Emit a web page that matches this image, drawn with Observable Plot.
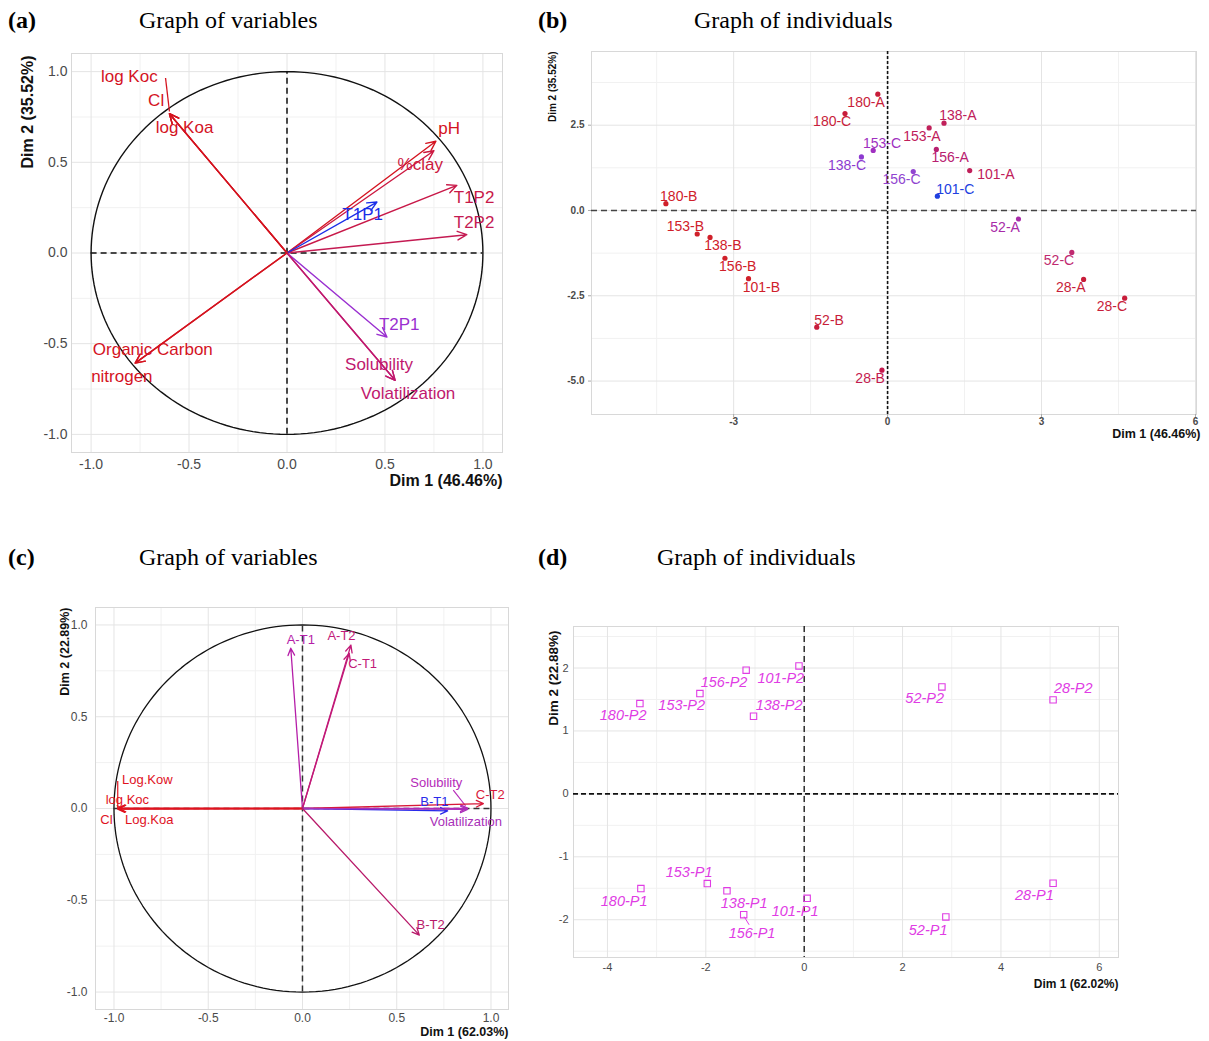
<!DOCTYPE html>
<html><head><meta charset="utf-8">
<script src="https://cdn.jsdelivr.net/npm/d3@7"></script>
<script src="https://cdn.jsdelivr.net/npm/@observablehq/plot@0.6"></script>
<style>
body{margin:0;background:#fff;}
#root{position:relative;width:1209px;height:1041px;overflow:hidden;background:#fff;}
.ttl{position:absolute;font-family:"Liberation Serif","Times New Roman",serif;font-size:24px;line-height:24px;color:#000;white-space:nowrap;}
.tag{font-weight:bold;}
.panel{position:absolute;}
</style></head><body><div id="root"></div>
<script>
// ---------------- DATA ----------------
// (a) Graph of variables
const varsA = ["log Koc","Cl","log Koa","pH","%clay","T1P2","T2P2","T1P1","T2P1","Solubility","Volatilization","Organic Carbon","nitrogen"];
const varsA_dim1 = [-0.60,-0.60,-0.60,0.76,0.75,0.867,0.918,0.459,0.51,0.552,0.552,-0.775,-0.775];
const varsA_dim2 = [0.768,0.768,0.768,0.616,0.564,0.373,0.101,0.281,-0.463,-0.702,-0.702,-0.607,-0.607];
// (b) Graph of individuals
const indB = ["180-A","180-C","138-A","153-A","153-C","138-C","156-A","156-C","101-A","101-C","180-B","52-A","153-B","138-B","156-B","101-B","52-C","28-A","28-C","52-B","28-B"];
const indB_dim1 = [-0.19,-0.83,1.10,0.81,-0.28,-0.51,0.95,0.50,1.60,0.97,-4.32,2.55,-3.71,-3.46,-3.17,-2.71,3.59,3.82,4.62,-1.38,-0.11];
const indB_dim2 = [3.41,2.84,2.56,2.42,1.76,1.57,1.79,1.14,1.17,0.42,0.20,-0.25,-0.69,-0.79,-1.40,-2.00,-1.23,-2.02,-2.57,-3.42,-4.68];
// (c) Graph of variables
const varsC = ["A-T1","A-T2","C-T1","Log.Kow","log Koc","Cl","Log.Koa","Solubility","C-T2","B-T1","Volatilization","B-T2"];
const varsC_dim1 = [-0.062,0.257,0.248,-0.98,-0.98,-0.98,-0.975,0.876,0.96,0.77,0.876,0.62];
const varsC_dim2 = [0.873,0.89,0.845,0.0,0.0,-0.003,0.0,0.002,0.027,-0.013,-0.005,-0.69];
// (d) Graph of individuals
const indD = ["180-P2","153-P2","156-P2","101-P2","138-P2","52-P2","28-P2","180-P1","153-P1","138-P1","156-P1","101-P1","52-P1","28-P1"];
const indD_dim1 = [-3.34,-2.12,-1.18,-0.106,-1.03,2.80,5.06,-3.32,-1.97,-1.57,-1.23,0.06,2.88,5.06];
const indD_dim2 = [1.436,1.595,1.966,2.034,1.234,1.70,1.494,-1.505,-1.425,-1.54,-1.92,-1.66,-1.955,-1.42];

// axis titles & ticks
const titleA = ["Dim 1 (46.46%)","Dim 2 (35.52%)"];
const titleB = ["Dim 1 (46.46%)","Dim 2 (35.52%)"];
const titleC = ["Dim 1 (62.03%)","Dim 2 (22.89%)"];
const titleD = ["Dim 1 (62.02%)","Dim 2 (22.88%)"];
const ticksAC = [-1,-0.5,0,0.5,1];
const ticksBx = [-3,0,3,6];
const ticksBy = [-5,-2.5,0,2.5];
const ticksDx = [-4,-2,0,2,4,6];
const ticksDy = [-2,-1,0,1,2];

// ---------------- STYLE / LAYOUT ----------------
const colA = ["#d4131f","#d4131f","#d4131f","#d4131f","#cc1840","#c81848","#c41a52","#1a2ee8","#9a2fd0","#c0186e","#c0186e","#d4131f","#d4131f"];
const labOffA = [[-0.205,0.205],[-0.068,0.072],[0.077,-0.079],[0.068,0.068],[-0.07,-0.074],[0.088,-0.07],[0.037,0.068],[-0.073,-0.07],[0.063,0.068],[-0.082,0.086],[0.066,-0.074],[0.09,0.074],[-0.068,-0.073]];
const colB = ["#c81d3a","#c81d3a","#c0205a","#c0205a","#a030c0","#8d3ad0","#b82070","#9045d0","#c0205a","#2040e0","#d0202a","#a82aa8","#d0202a","#d0202a","#d0202a","#d0202a","#c02a70","#c81d3a","#c81d3a","#c81d3a","#c41a4e"];
const labOffB = [[-0.23,-0.235],[-0.25,-0.235],[0.27,0.225],[-0.14,-0.245],[0.17,0.215],[-0.28,-0.25],[0.27,-0.25],[-0.23,-0.235],[0.51,-0.13],[0.35,0.195],[0.25,0.215],[-0.26,-0.245],[-0.23,0.225],[0.25,-0.235],[0.25,-0.245],[0.25,-0.245],[-0.25,-0.245],[-0.25,-0.245],[-0.25,-0.245],[0.24,0.186],[-0.23,-0.245]];
const colC = ["#b51ea8","#c21a78","#c21a78","#e0121e","#e0121e","#e0121e","#e0121e","#b52ab8","#d81a3a","#2a2aea","#a830b8","#b81a6a"];
const labOffC = [[0.053,0.047],[-0.05,0.05],[0.071,-0.058],[0.157,0.155],[0.051,0.049],[-0.06,-0.06],[0.162,-0.06],[-0.166,0.14],[0.036,0.049],[-0.07,0.049],[-0.009,-0.068],[0.06,0.054]];
const labOffD = [[-0.34,-0.196],[-0.37,-0.195],[-0.45,-0.186],[-0.37,-0.2],[0.52,0.176],[-0.35,-0.185],[0.41,0.176],[-0.34,-0.195],[-0.37,0.175],[0.35,-0.2],[0.17,-0.29],[-0.245,-0.2],[-0.36,-0.215],[-0.38,-0.19]];
const colD = "#e03ce4";

// leader segments (label connectors)
const leadA = [{x1:-0.62,y1:0.965,x2:-0.60,y2:0.78,c:"#d4131f"}];
const leadC = [{x1:-0.98,y1:0.15,x2:-0.98,y2:0.0,c:"#e0121e"},{x1:0.80,y1:0.10,x2:0.865,y2:0.015,c:"#b52ab8"}];
const leadD = [{x1:-1.22,y1:-1.95,x2:-1.12,y2:-2.08}];

const circle = d3.range(0, 361, 2).map(a => ({x: Math.cos(a*Math.PI/180), y: Math.sin(a*Math.PI/180)}));
const SANS = "'Liberation Sans', Arial, Helvetica, sans-serif";

function rows(names, d1, d2, offs, cols) {
  return names.map((n, i) => ({name: n, x: d1[i], y: d2[i], lx: d1[i] + offs[i][0], ly: d2[i] + offs[i][1], color: Array.isArray(cols) ? cols[i] : cols}));
}

function makePanel(cfg, marks) {
  const p = Plot.plot({
    width: cfg.w, height: cfg.h,
    marginLeft: cfg.ml, marginRight: cfg.mr, marginTop: cfg.mt, marginBottom: cfg.mb,
    x: {domain: cfg.xd}, y: {domain: cfg.yd},
    color: {type: "identity"},
    style: {fontFamily: SANS, background: "transparent", overflow: "visible"},
    marks: [
      Plot.gridX(cfg.xMinor, {stroke: "#f1f1f1", strokeOpacity: 1}),
      Plot.gridY(cfg.yMinor, {stroke: "#f1f1f1", strokeOpacity: 1}),
      Plot.gridX(cfg.xMajor, {stroke: "#e4e4e4", strokeOpacity: 1}),
      Plot.gridY(cfg.yMajor, {stroke: "#e4e4e4", strokeOpacity: 1}),
      Plot.frame({stroke: "#d8d8d8"}),
      Plot.axisX(cfg.xMajor, {tickSize: cfg.ts || 0, tickPadding: cfg.xtp, fontSize: cfg.tfs, fontWeight: cfg.tfw || "normal", tickFormat: cfg.xfmt, label: null, color: "#4a4a4a", stroke: "#aaa"}),
      Plot.axisY(cfg.yMajor, {tickSize: cfg.ts || 0, tickPadding: cfg.ytp, fontSize: cfg.tfs, fontWeight: cfg.tfw || "normal", tickFormat: cfg.yfmt, label: null, color: "#4a4a4a", stroke: "#aaa"}),
      ...marks,
      Plot.text([cfg.titles[0]], {frameAnchor: "bottom-right", text: d => d, textAnchor: "end", dy: cfg.xtdy, dx: cfg.xtdx || 0, fontWeight: "bold", fontSize: cfg.xtfs, fill: "#111"}),
      Plot.text([cfg.titles[1]], {frameAnchor: "top-left", text: d => d, rotate: -90, textAnchor: "end", dx: cfg.ytdx, dy: cfg.ytdy || 0, fontWeight: "bold", fontSize: cfg.ytfs, fill: "#111"})
    ]
  });
  p.classList.add("panel");
  p.style.left = cfg.left + "px";
  p.style.top = cfg.top + "px";
  return p;
}

const root = document.getElementById("root");
const f1 = d => d.toFixed(1);
const fint = d => String(d);

// ---- Panel (a)
const rA = rows(varsA, varsA_dim1, varsA_dim2, labOffA, colA);
root.appendChild(makePanel({
  left: 0, top: 40, w: 520, h: 460, ml: 71, mr: 18, mt: 13, mb: 48,
  xd: [-1.1, 1.1], yd: [-1.1, 1.1],
  xMajor: ticksAC, yMajor: ticksAC, xMinor: [-0.75,-0.25,0.25,0.75], yMinor: [-0.75,-0.25,0.25,0.75],
  tfs: 14, xtp: 7, ytp: 4, xfmt: f1, yfmt: f1, titles: titleA, xtdy: 33, xtfs: 16, ytdx: -50, ytdy: 2, ytfs: 16
}, [
  Plot.line(circle, {x: "x", y: "y", stroke: "#111", strokeWidth: 1.4}),
  Plot.ruleY([0], {x1: -1, x2: 1, stroke: "#111", strokeWidth: 1.5, strokeDasharray: "6,4"}),
  Plot.ruleX([0], {y1: -1, y2: 1, stroke: "#111", strokeWidth: 1.5, strokeDasharray: "6,4"}),
  Plot.link(leadA, {x1: "x1", y1: "y1", x2: "x2", y2: "y2", stroke: "c", strokeWidth: 1.3}),
  Plot.arrow(rA, {x1: () => 0, y1: () => 0, x2: "x", y2: "y", stroke: "color", strokeWidth: 1.4, headLength: 11, headAngle: 50}),
  Plot.text(rA, {x: "lx", y: "ly", text: "name", fill: "color", fontSize: 17})
]));

// ---- Panel (b)
const rB = rows(indB, indB_dim1, indB_dim2, labOffB, colB);
root.appendChild(makePanel({
  left: 530, top: 40, w: 679, h: 400, ml: 61, mr: 13, mt: 11, mb: 26,
  xd: [-5.77, 6.02], yd: [-5.98, 4.66],
  xMajor: ticksBx, yMajor: ticksBy, xMinor: [-4.5,-1.5,1.5,4.5], yMinor: [-3.75,-1.25,1.25,3.75],
  tfs: 10, tfw: "bold", ts: 3, xtp: 0, ytp: 4, xfmt: fint, yfmt: f1,
  titles: titleB, xtdy: 23, xtdx: 4, xtfs: 12.5, ytdx: -43, ytdy: 0, ytfs: 10
}, [
  Plot.ruleY([0], {stroke: "#444", strokeWidth: 1.3, strokeDasharray: "6,4"}),
  Plot.ruleX([0], {stroke: "#111", strokeWidth: 1.6, strokeDasharray: "3,2"}),
  Plot.dot(rB, {x: "x", y: "y", fill: "color", r: 2.6}),
  Plot.text(rB, {x: "lx", y: "ly", text: "name", fill: "color", fontSize: 14})
]));

// ---- Panel (c)
const rC = rows(varsC, varsC_dim1, varsC_dim2, labOffC, colC);
root.appendChild(makePanel({
  left: 0, top: 590, w: 520, h: 451, ml: 95, mr: 12, mt: 17, mb: 32,
  xd: [-1.098, 1.093], yd: [-1.095, 1.095],
  xMajor: ticksAC, yMajor: ticksAC, xMinor: [-0.75,-0.25,0.25,0.75], yMinor: [-0.75,-0.25,0.25,0.75],
  tfs: 12, xtp: 4, ytp: 8, xfmt: f1, yfmt: f1, titles: titleC, xtdy: 26, xtfs: 12.5, ytdx: -35, ytdy: 0, ytfs: 12.5
}, [
  Plot.line(circle, {x: "x", y: "y", stroke: "#111", strokeWidth: 1.3}),
  Plot.ruleY([0], {x1: -1, x2: 1, stroke: "#333", strokeWidth: 1.5, strokeDasharray: "6,4"}),
  Plot.ruleX([0], {y1: -1, y2: 1, stroke: "#333", strokeWidth: 1.5, strokeDasharray: "6,4"}),
  Plot.link(leadC, {x1: "x1", y1: "y1", x2: "x2", y2: "y2", stroke: "c", strokeWidth: 1.2}),
  Plot.arrow(rC, {x1: () => 0, y1: () => 0, x2: "x", y2: "y", stroke: "color", strokeWidth: 1.3, headLength: 9, headAngle: 50}),
  Plot.text(rC, {x: "lx", y: "ly", text: "name", fill: "color", fontSize: 13})
]));

// ---- Panel (d)
const rD = rows(indD, indD_dim1, indD_dim2, labOffD, colD);
root.appendChild(makePanel({
  left: 530, top: 600, w: 679, h: 441, ml: 43, mr: 91, mt: 26, mb: 84,
  xd: [-4.69, 6.39], yd: [-2.60, 2.66],
  xMajor: ticksDx, yMajor: ticksDy, xMinor: [-3,-1,1,3,5], yMinor: [-2.5,-1.5,-0.5,0.5,1.5,2.5],
  tfs: 11, xtp: 6, ytp: 5, xfmt: fint, yfmt: fint, titles: titleD, xtdy: 30, xtfs: 12, ytdx: -25, ytdy: 4, ytfs: 13.5
}, [
  Plot.ruleY([0], {stroke: "#111", strokeWidth: 1.6, strokeDasharray: "5,3"}),
  Plot.ruleX([0], {stroke: "#111", strokeWidth: 1.3, strokeDasharray: "6,4"}),
  Plot.link(leadD, {x1: "x1", y1: "y1", x2: "x2", y2: "y2", stroke: colD, strokeWidth: 1}),
  Plot.dot(rD, {x: "x", y: "y", symbol: "square", r: 3.6, stroke: colD, fill: "none", strokeWidth: 1.1}),
  Plot.text(rD, {x: "lx", y: "ly", text: "name", fill: colD, fontSize: 14.5, fontStyle: "italic"})
]));

// ---- Panel headings
const heads = [
  ["(a)", 8, 8, true], ["Graph of variables", 139, 8, false],
  ["(b)", 538, 8, true], ["Graph of individuals", 694, 8, false],
  ["(c)", 8, 545, true], ["Graph of variables", 139, 545, false],
  ["(d)", 538, 545, true], ["Graph of individuals", 657, 545, false]
];
for (const [t, x, y, bold] of heads) {
  const d = document.createElement("div");
  d.className = "ttl" + (bold ? " tag" : "");
  d.style.left = x + "px"; d.style.top = y + "px";
  d.textContent = t;
  root.appendChild(d);
}
</script></body></html>
